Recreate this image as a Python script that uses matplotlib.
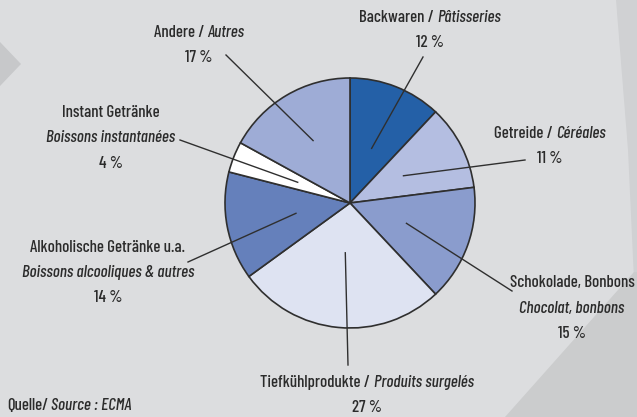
import numpy as np
import matplotlib
matplotlib.use("Agg")
import matplotlib.pyplot as plt
from matplotlib.patches import Polygon

plt.rcParams['font.family'] = ['Barlow Condensed', 'DejaVu Sans']

# market shares, clockwise from 12 o'clock
labels_de = ['Backwaren', 'Getreide', 'Schokolade, Bonbons', 'Tiefkühlprodukte',
             'Alkoholische Getränke u.a.', 'Instant Getränke', 'Andere']
labels_fr = ['Pâtisseries', 'Céréales', 'Chocolat, bonbons', 'Produits surgelés',
             'Boissons alcooliques & autres', 'Boissons instantanées', 'Autres']
shares = [12, 11, 15, 27, 14, 4, 17]
colors = ['#2460a7', '#b4bee1', '#8a9ccd', '#dee3f2', '#6580bb', '#ffffff', '#9eacd6']
# one line "de / fr" or two lines de + fr
two_line = [False, False, True, False, True, True, False]

W, H = 637, 417
BG = '#dcdddf'
TXT = '#2b2b2b'
FS = 12.2

fig = plt.figure(figsize=(W / 100, H / 100), dpi=100, facecolor=BG)
ax = fig.add_axes([0, 0, 1, 1])
ax.set_xlim(0, W)
ax.set_ylim(0, H)
ax.axis('off')

# decorative background shapes (pixel coords, y from top)
def img(pts):
    return [(x, H - y) for x, y in pts]

ax.add_patch(Polygon(img([(0, 42), (21, 64), (0, 86)]), closed=True, color='#c7c8ca', lw=0))
ax.add_patch(Polygon(img([(616, 0), (637, 0), (637, 417), (634, 280), (628, 150)]),
                     closed=True, color='#d0d1d3', lw=0))
ax.add_patch(Polygon(img([(505, 417), (634, 272), (637, 272), (637, 417)]),
                     closed=True, color='#cbcccd', lw=0))

cx, cy, R = 350, H - 203, 125
wedges, _ = ax.pie(shares, colors=colors, startangle=90, counterclock=False,
                   center=(cx, cy), radius=R, frame=True,
                   wedgeprops=dict(edgecolor='#2f2f2f', linewidth=1.2))
ax.set_xlim(0, W)
ax.set_ylim(0, H)
ax.axis('off')

renderer = fig.canvas.get_renderer()
GAP = 3.5

def text_line(x, y, parts, ha='center', gap=GAP):
    objs = []
    for s, style in parts:
        t = ax.text(0, y, s, fontsize=FS, style=style, weight='medium', color=TXT,
                    va='center', ha='left')
        objs.append(t)
    widths = [t.get_window_extent(renderer).width for t in objs]
    total = sum(widths) + gap * (len(objs) - 1)
    x0 = x - total / 2 if ha == 'center' else x
    for t, w in zip(objs, widths):
        t.set_x(x0)
        x0 += w + gap

# label layout: text center x, first line y (image px), leader outer end, inner radius frac
layout = [
    (430, 17, (423, 57), 0.47),
    (550, 133, (525, 160), 0.48),
    (572, 283, (512, 291), 0.48),
    (367, 382, (348, 365), 0.40),
    (108, 247, (188, 262), 0.44),
    (111, 112, (180, 140), 0.45),
    (199, 32, (226, 55), 0.58),
]
LS = 25.5

for i, w in enumerate(wedges):
    tx, ty, (ox, oy), rf = layout[i]
    mid = np.deg2rad((w.theta1 + w.theta2) / 2)
    ix, iy = cx + rf * R * np.cos(mid), cy + rf * R * np.sin(mid)
    ax.plot([ix, ox], [iy, H - oy], color='#2f2f2f', lw=1.0)
    y = H - ty
    if two_line[i]:
        text_line(tx, y, [(labels_de[i], 'normal')])
        text_line(tx, y - LS, [(labels_fr[i], 'italic')])
        text_line(tx, y - 2 * LS, [(f'{shares[i]} %', 'normal')])
    else:
        text_line(tx, y, [(labels_de[i] + ' /', 'normal'), (labels_fr[i], 'italic')])
        text_line(tx, y - LS, [(f'{shares[i]} %', 'normal')])

text_line(7, H - 406, [('Quelle/', 'normal'), ('Source : ECMA', 'italic')], ha='left', gap=2.5)

fig.savefig('out.png', dpi=100, facecolor=BG)
